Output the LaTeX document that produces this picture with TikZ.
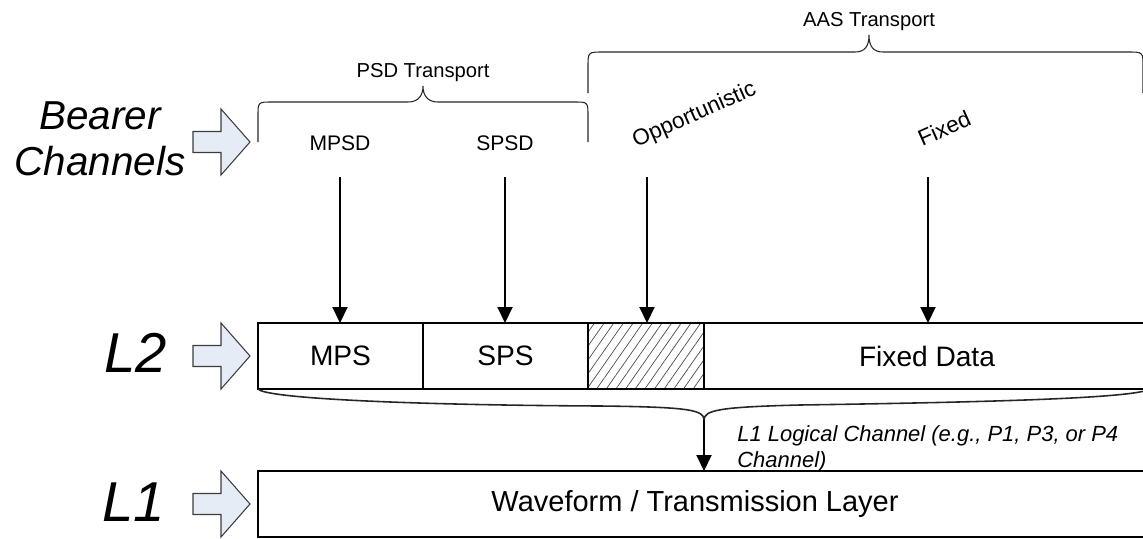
\documentclass[tikz,border=0pt]{standalone}
\usepackage{fontspec}
\setmainfont{Liberation Sans}
\usetikzlibrary{arrows.meta,patterns.meta}

\definecolor{arrowfill}{RGB}{230,236,246}
\definecolor{arrowline}{RGB}{60,60,60}

\tikzset{
  cell/.style={draw, line width=0.6pt, outer sep=0pt, minimum height=1.32cm, font=\fontsize{16}{19}\selectfont},
  chan/.style={font=\fontsize{12}{14}\selectfont},
  slanted/.style={font=\fontsize{12.8}{15}\selectfont, rotate=24, anchor=base west, inner sep=0pt},
  feed/.style={line width=1.1pt, -{Triangle[length=0.32cm,width=0.3cm]}},
  curly/.style={draw=black!85, line width=0.6pt},
  layer/.style={font=\itshape\fontsize{32}{36}\selectfont},
  blockarrow/.style={fill=arrowfill, draw=arrowline, line width=0.6pt},
}

\begin{document}
\begin{tikzpicture}[x=0.02cm,y=-0.02cm]
  \useasboundingbox (0,0) rectangle (1143,538);
  \clip (0,0) rectangle (1143,538);

  % layer names
  \node[font=\itshape\fontsize{23}{26}\selectfont, align=center] (bearer) at (100,139) {Bearer\\Channels};
  \node[layer] (ltwo) at (136,353) {L2};
  \node[layer] (lone) at (134,502) {L1};
  \filldraw[blockarrow, shift={(193,142)}] (0,-10.5) -- (28,-10.5) -- (28,-33) -- (57,0) -- (28,33) -- (28,10.5) -- (0,10.5) -- cycle;
  \filldraw[blockarrow, shift={(193,356)}] (0,-10.5) -- (28,-10.5) -- (28,-33) -- (57,0) -- (28,33) -- (28,10.5) -- (0,10.5) -- cycle;
  \filldraw[blockarrow, shift={(193,504)}] (0,-10.5) -- (28,-10.5) -- (28,-33) -- (57,0) -- (28,33) -- (28,10.5) -- (0,10.5) -- cycle;

  % L2 cells
  \node[cell, minimum width=3.3cm] (mps) at (340.5,356) {MPS};
  \node[cell, minimum width=3.3cm] (sps) at (505.5,356) {SPS};
  \node[cell, minimum width=2.32cm, pattern={Lines[angle=55,distance=4.5pt,line width=0.4pt]}, pattern color=black!70] (opp) at (646,356) {};
  \node[cell, minimum width=8.92cm] (fixd) at (927,356) {Fixed Data};

  % L1 box
  \draw[line width=0.6pt] (258,471) rectangle (1150,537);
  \node[font=\fontsize{16.5}{19}\selectfont] (wave) at (695,504) {Waveform / Transmission Layer};

  % bearer channels
  \node[chan, anchor=base] (mpsd) at (340,150) {MPSD};
  \node[chan, anchor=base] (spsd) at (505,150) {SPSD};
  \node[slanted] (oppl) at (636,148) {Opportunistic};
  \node[slanted] (fixl) at (922,147) {Fixed};
  \coordinate (mpsdin) at (340,177);
  \coordinate (spsdin) at (505,177);
  \coordinate (oppin) at (647,177);
  \coordinate (fixin) at (928,177);
  \draw[feed] (mpsdin) -- (mpsdin |- mps.north);
  \draw[feed] (spsdin) -- (spsdin |- sps.north);
  \draw[feed] (oppin) -- (oppin |- opp.north);
  \draw[feed] (fixin) -- (fixin |- fixd.north);

  % transport braces
  \draw[curly] (258,142) -- (258,116) .. controls (258,102) .. (272,102) -- (408,102)
    .. controls (418,102) and (423,96) .. (423,86) .. controls (423,96) and (428,102) .. (438,102)
    -- (574,102) .. controls (588,102) .. (588,116) -- (588,142);
  \node[font=\fontsize{11.5}{14}\selectfont, anchor=base] (psd) at (423,77) {PSD Transport};
  \draw[curly] (588,93) -- (588,67) .. controls (588,52) .. (603,52) -- (855,52)
    .. controls (865,52) and (869,46) .. (869,35) .. controls (869,46) and (873,52) .. (883,52)
    -- (1128,52) .. controls (1143,52) .. (1143,67) -- (1143,93);
  \node[font=\fontsize{11.5}{14}\selectfont, anchor=base] (aas) at (869,26) {AAS Transport};

  % logical channel
  \draw[curly, line width=0.9pt] (mps.south west) .. controls (265,398) and (400,405) .. (600,406)
    .. controls (690,407) and (704,410) .. (704,420) coordinate (tip)
    .. controls (704,410) and (720,407) .. (800,405) .. controls (1000,402) and (1135,398) .. (1150,389);
  \coordinate (ltop) at (704,471);
  \draw[feed] (tip) -- (ltop);
  \node[font=\itshape\fontsize{12.5}{14.8}\selectfont, align=left, anchor=north west, inner sep=0pt] (logic) at (737,425) {L1 Logical Channel (e.g., P1, P3, or P4\\Channel)};
\end{tikzpicture}
\end{document}
